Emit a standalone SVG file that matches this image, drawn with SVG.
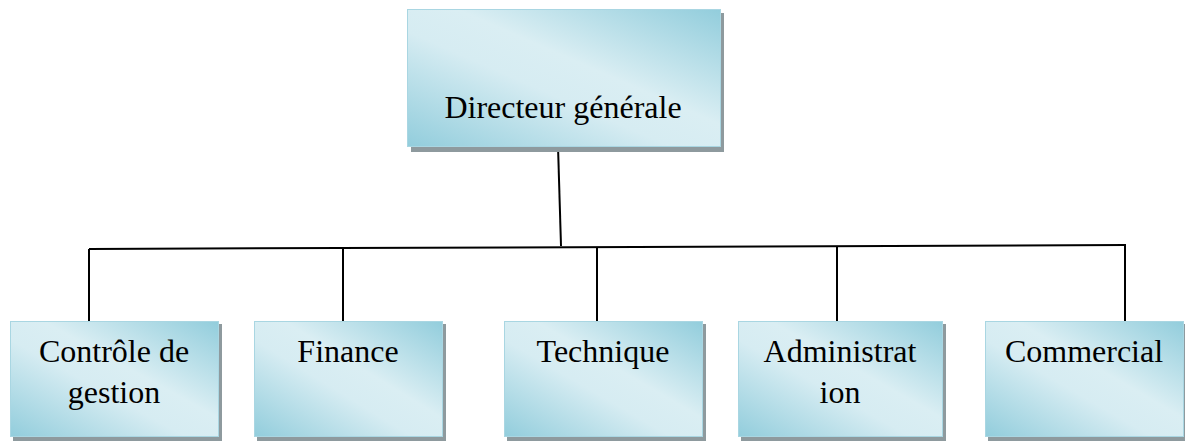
<svg xmlns="http://www.w3.org/2000/svg" width="1185" height="441" viewBox="0 0 1185 441">
  <defs>
    <linearGradient id="boxFill" x1="1" y1="0" x2="0" y2="1">
      <stop offset="0" stop-color="#92CDDC"/>
      <stop offset="0.42" stop-color="#DAEEF3"/>
      <stop offset="0.58" stop-color="#D6ECF2"/>
      <stop offset="1" stop-color="#92CDDC"/>
    </linearGradient>
  </defs>
  <style>
    .shadow { fill: #8E9A9E; }
    .box { fill: url(#boxFill); stroke: #A9D6E2; stroke-width: 1; }
    .label { font-family: "Liberation Serif", "Times New Roman", serif; font-size: 32px; fill: #000; text-anchor: middle; }
    .link { stroke: #000; stroke-width: 2; fill: none; }
  </style>

  <!-- connectors -->
  <g id="connectors">
    <line class="link" x1="558" y1="146" x2="561" y2="246"/>
    <line class="link" x1="89" y1="249" x2="1126" y2="245"/>
    <line class="link" x1="89" y1="249" x2="89" y2="321"/>
    <line class="link" x1="343" y1="248" x2="343" y2="321"/>
    <line class="link" x1="597" y1="248" x2="597" y2="321"/>
    <line class="link" x1="837" y1="247" x2="837" y2="321"/>
    <line class="link" x1="1125" y1="245" x2="1125" y2="321"/>
  </g>

  <!-- top node -->
  <g id="node-directeur">
    <rect class="shadow" x="411" y="13" width="313" height="139"/>
    <rect class="box" x="407.5" y="9.5" width="313" height="137"/>
    <text class="label" x="563" y="118">Directeur générale</text>
  </g>

  <!-- department nodes -->
  <g id="node-controle">
    <rect class="shadow" x="13" y="324" width="209" height="117"/>
    <rect class="box" x="10.5" y="321.5" width="208" height="115"/>
    <text class="label" x="114" y="362">Contrôle de</text>
    <text class="label" x="114" y="403">gestion</text>
  </g>

  <g id="node-finance">
    <rect class="shadow" x="257" y="324" width="189" height="117"/>
    <rect class="box" x="254.5" y="321.5" width="188" height="115"/>
    <text class="label" x="348" y="362">Finance</text>
  </g>

  <g id="node-technique">
    <rect class="shadow" x="507" y="324" width="199" height="117"/>
    <rect class="box" x="504.5" y="321.5" width="198" height="115"/>
    <text class="label" x="603" y="362">Technique</text>
  </g>

  <g id="node-administration">
    <rect class="shadow" x="741" y="324" width="205" height="117"/>
    <rect class="box" x="738.5" y="321.5" width="204" height="115"/>
    <text class="label" x="840" y="362">Administrat</text>
    <text class="label" x="840" y="403">ion</text>
  </g>

  <g id="node-commercial">
    <rect class="shadow" x="988" y="324" width="197" height="117"/>
    <rect class="box" x="985.5" y="321.5" width="198" height="115"/>
    <text class="label" x="1084" y="362">Commercial</text>
  </g>
</svg>
